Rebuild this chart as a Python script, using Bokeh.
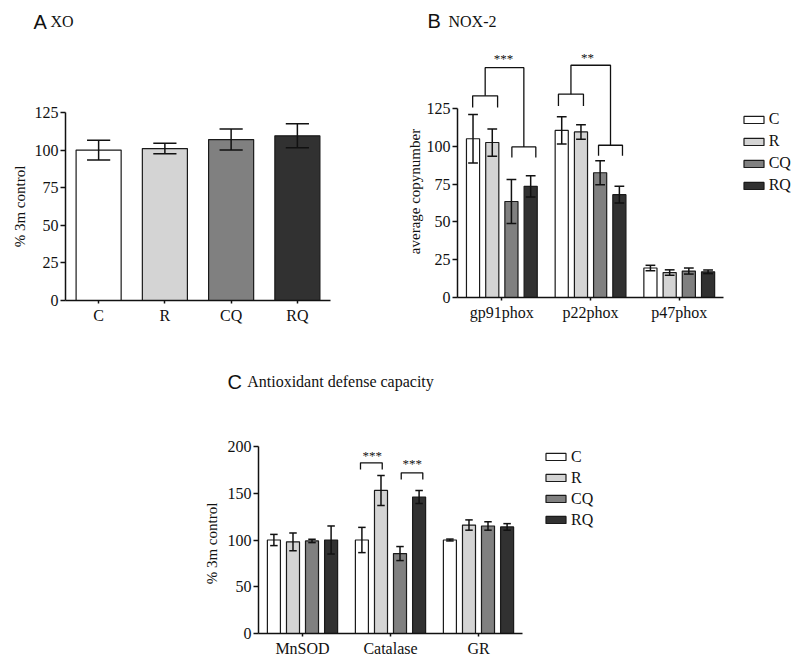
import math
from bokeh.plotting import figure
from bokeh.models import Range1d, FixedTicker, Label, Legend, LegendItem
from bokeh.layouts import column, row
from bokeh.embed import file_html
from bokeh.resources import INLINE

# ---------------- data ----------------
xo_groups = ["C", "R", "CQ", "RQ"]
xo_mean = [100, 101, 107, 109.5]
xo_sem = [6.5, 3.5, 7, 8]

series_names = ["C", "R", "CQ", "RQ"]

nox_genes = ["gp91phox", "p22phox", "p47phox"]
nox_C = [105, 110.5, 19.5]
nox_R = [102.5, 109.5, 16.5]
nox_CQ = [63.5, 82.5, 17.5]
nox_RQ = [73.5, 68, 17]
nox_C_sem = [16, 9, 1.8]
nox_R_sem = [9, 4.8, 1.8]
nox_CQ_sem = [14.5, 8, 2]
nox_RQ_sem = [7, 5.5, 1.2]

anti_enzymes = ["MnSOD", "Catalase", "GR"]
anti_C = [100, 100, 100]
anti_R = [98, 153, 116]
anti_CQ = [99, 85.5, 115]
anti_RQ = [100, 146, 114]
anti_C_sem = [6, 13.5, 1]
anti_R_sem = [9.5, 16, 5.5]
anti_CQ_sem = [1.8, 7.5, 4.5]
anti_RQ_sem = [15, 7, 3.5]

xo_ticks = [0, 25, 50, 75, 100, 125]
nox_ticks = [0, 25, 50, 75, 100, 125]
anti_ticks = [0, 50, 100, 150, 200]

# ---------------- style ----------------
SERIF = "Liberation Serif"
SANS = "Liberation Sans"
INK = "#111111"
colors = ["#ffffff", "#d4d4d4", "#808080", "#313131"]
offsets = [-0.325, -0.108, 0.108, 0.325]


class Panel:
    """Figure whose frame fills the whole box; axes are pinned at data 0."""

    def __init__(self, fx, fy, w, h, ox, oy, sx, sy):
        self.fx, self.fy, self.w, self.h = fx, fy, w, h
        self.ox, self.oy, self.sx, self.sy = ox, oy, sx, sy
        xr = Range1d(-(ox - fx) / sx, (fx + w - ox) / sx)
        yr = Range1d(-(fy + h - oy) / sy, (oy - fy) / sy)
        p = figure(width=w, height=h, x_range=xr, y_range=yr,
                   output_backend="svg", toolbar_location=None,
                   min_border_left=0, min_border_right=0, min_border_top=0,
                   min_border_bottom=0)
        p.outline_line_color = None
        p.xgrid.grid_line_color = None
        p.ygrid.grid_line_color = None
        self.p = p

    def at(self, ix, iy):
        # page pixel -> data coordinates (for annotation placement)
        return (ix - self.ox) / self.sx, (self.oy - iy) / self.sy


def style_axes(pn, cats, yticks):
    p = pn.p
    n = len(cats)
    xa = p.xaxis[0]
    ya = p.yaxis[0]
    xa.fixed_location = 0
    ya.fixed_location = 0
    xa.bounds = (0, n)
    ya.bounds = (yticks[0], yticks[-1])
    xa.ticker = FixedTicker(ticks=[i + 0.5 for i in range(n)])
    xa.major_label_overrides = {i + 0.5: c for i, c in enumerate(cats)}
    ya.ticker = FixedTicker(ticks=yticks)
    for ax in (xa, ya):
        ax.axis_line_color = INK
        ax.axis_line_width = 1.5
        ax.major_tick_line_color = INK
        ax.major_tick_line_width = 1.5
        ax.minor_tick_line_color = None
        ax.major_tick_in = 0
        ax.major_label_text_font = SERIF
        ax.major_label_text_font_size = "16px"
        ax.major_label_text_color = INK
    ya.major_tick_out = 5
    ya.major_label_standoff = 2
    xa.major_tick_out = 3
    xa.major_label_standoff = 3


def label(pn, ix, iy, txt, font, size, align="left", angle=0.0):
    x, y = pn.at(ix, iy)
    pn.p.add_layout(Label(x=x, y=y, text=txt, text_font=font, text_font_size=size,
                          text_align=align, text_baseline="middle", text_color=INK,
                          angle=angle))


def y_title(pn, ix, iy, txt):
    label(pn, ix, iy, txt, SERIF, "15px", align="center", angle=math.pi / 2)


def panel_title(pn, ix_letter, ix_text, iy, letter, txt):
    label(pn, ix_letter, iy, letter, SANS, "20px")
    label(pn, ix_text, iy, txt, SERIF, "16px")


def error_bars(p, xs, means, sems, cap):
    lo = [m - e for m, e in zip(means, sems)]
    hi = [m + e for m, e in zip(means, sems)]
    p.segment(x0=xs, y0=lo, x1=xs, y1=hi, line_color=INK, line_width=1.5)
    xl = [x - cap / 2 for x in xs]
    xr = [x + cap / 2 for x in xs]
    p.segment(x0=xl, y0=hi, x1=xr, y1=hi, line_color=INK, line_width=1.5)
    p.segment(x0=xl, y0=lo, x1=xr, y1=lo, line_color=INK, line_width=1.5)


def bracket(p, x0, x1, top, leg):
    p.line(x=[x0, x0, x1, x1], y=[leg, top, top, leg], line_color=INK, line_width=1.3)


def stars(p, x, y, txt):
    p.add_layout(Label(x=x, y=y, text=txt, text_font=SERIF, text_font_size="13px",
                       text_align="center", text_baseline="middle", text_color=INK))


def grouped_bars(p, cats, means_list, sems_list, cap):
    items = []
    for k, (name, means, sems) in enumerate(zip(series_names, means_list, sems_list)):
        xs = [i + 0.5 + offsets[k] for i in range(len(cats))]
        r = p.vbar(x=xs, top=means, bottom=0, width=0.148, fill_color=colors[k],
                   line_color="#1a1a1a", line_width=1.2)
        error_bars(p, xs, means, sems, cap)
        items.append(LegendItem(label=name, renderers=[r]))
    return items


def legend(pn, items, ix_left, iy_bottom, label_h):
    loc = (ix_left - pn.fx, pn.fy + pn.h - iy_bottom)
    return Legend(items=items, location=loc, border_line_color=None, background_fill_alpha=0,
                  label_text_font=SERIF, label_text_font_size="16px", label_text_color=INK,
                  glyph_width=25, glyph_height=9, label_height=label_h, spacing=3,
                  padding=0, margin=0, label_standoff=3)


# ---------------- panel A : XO ----------------
A = Panel(0, 0, 400, 340, 65, 300, 66.25, 1.504)
style_axes(A, xo_groups, xo_ticks)
xa = [i + 0.5 for i in range(len(xo_groups))]
A.p.vbar(x=xa, top=xo_mean, bottom=0, width=0.68, fill_color=colors,
         line_color="#1a1a1a", line_width=1.2)
error_bars(A.p, xa, xo_mean, xo_sem, 0.35)
y_title(A, 19, 206, "% 3m control")
panel_title(A, 33, 50, 21, "A", "XO")

# ---------------- panel B : NOX-2 ----------------
B = Panel(400, 0, 400, 340, 457, 297, 88.7, 1.512)
style_axes(B, nox_genes, nox_ticks)
itemsB = grouped_bars(B.p, nox_genes, [nox_C, nox_R, nox_CQ, nox_RQ],
                      [nox_C_sem, nox_R_sem, nox_CQ_sem, nox_RQ_sem], 0.11)
bracket(B.p, 0.5 - 0.329, 0.5 - 0.048, 133.4, 125.6)
bracket(B.p, 0.5 + 0.113, 0.5 + 0.383, 99.6, 92.6)
B.p.line(x=[0.5 - 0.188, 0.5 - 0.188, 0.5 + 0.248, 0.5 + 0.248], y=[133.4, 152, 152, 99.6],
         line_color=INK, line_width=1.3)
stars(B.p, 0.519, 158, "***")
bracket(B.p, 1.5 - 0.362, 1.5 - 0.080, 134.5, 126.7)
bracket(B.p, 1.5 + 0.090, 1.5 + 0.360, 100.7, 93.7)
B.p.line(x=[1.5 - 0.221, 1.5 - 0.221, 1.5 + 0.225, 1.5 + 0.225], y=[134.5, 153.6, 153.6, 100.7],
         line_color=INK, line_width=1.3)
stars(B.p, 1.466, 158.5, "**")
B.p.add_layout(legend(B, itemsB, 740.7, 194.5, 19))
y_title(B, 414, 191, "average copynumber")
panel_title(B, 427, 448, 20.5, "B", "NOX-2")

# ---------------- panel C : antioxidant ----------------
C = Panel(0, 340, 800, 324, 258, 633, 88, 0.935)
style_axes(C, anti_enzymes, anti_ticks)
itemsC = grouped_bars(C.p, anti_enzymes, [anti_C, anti_R, anti_CQ, anti_RQ],
                      [anti_C_sem, anti_R_sem, anti_CQ_sem, anti_RQ_sem], 0.085)
bracket(C.p, 1.5 - 0.341, 1.5 - 0.094, 182.5, 175.4)
stars(C.p, 1.5 - 0.208, 190.5, "***")
bracket(C.p, 1.5 + 0.122, 1.5 + 0.367, 171.8, 164.7)
stars(C.p, 1.5 + 0.247, 181.5, "***")
C.p.add_layout(legend(C, itemsC, 543, 528.7, 18))
y_title(C, 211, 543, "% 3m control")
panel_title(C, 227, 246.7, 381, "C", "Antioxidant defense capacity")

layout = column(row(A.p, B.p), C.p)
open("out.html", "w").write(file_html(layout, INLINE))
